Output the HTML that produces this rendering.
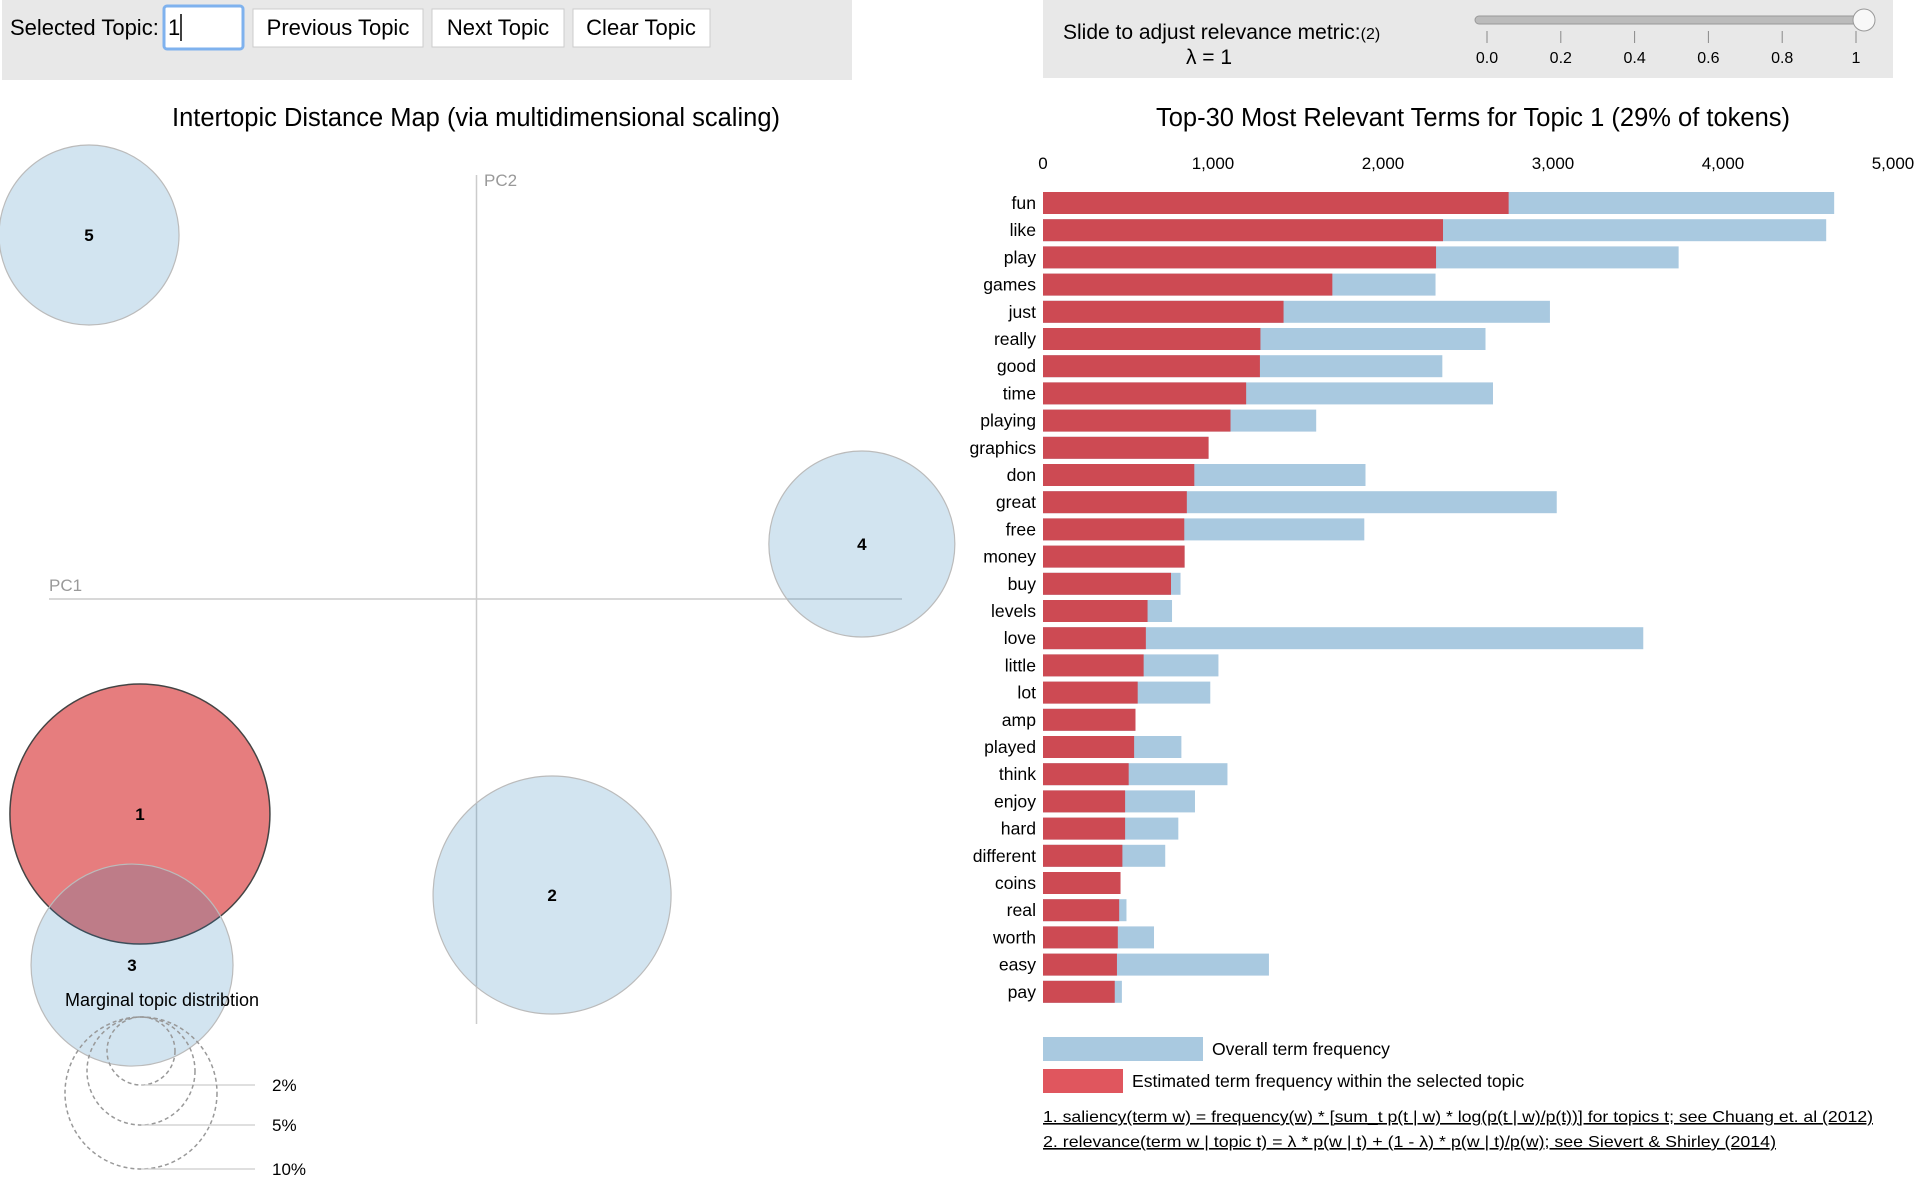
<!DOCTYPE html>
<html><head><meta charset="utf-8">
<style>
html,body{margin:0;padding:0;background:#fff;}
body{width:1926px;height:1186px;overflow:hidden;position:relative;font-family:"Liberation Sans",Arial,sans-serif;}
svg text{font-family:"Liberation Sans",Arial,sans-serif;}
</style></head>
<body>
<svg id="root" width="1926" height="1186" xmlns="http://www.w3.org/2000/svg">
  <rect x="2" y="0" width="850" height="80" fill="#e8e8e8"/>
  <text x="10" y="35" font-size="22" fill="#000">Selected Topic:</text>
  <rect x="164" y="6" width="79" height="43" rx="3" fill="#fff" stroke="#7fb2ee" stroke-width="3"/>
  <text x="168" y="35" font-size="22">1</text>
  <line x1="181" y1="14" x2="181" y2="41" stroke="#000" stroke-width="1.5"/>
  <g>
    <rect x="253" y="9" width="170" height="38" fill="#fff" stroke="#ccc"/>
    <text x="338" y="35" font-size="22" text-anchor="middle">Previous Topic</text>
  </g>
  <g>
    <rect x="432" y="9" width="132" height="38" fill="#fff" stroke="#ccc"/>
    <text x="498" y="35" font-size="22" text-anchor="middle">Next Topic</text>
  </g>
  <g>
    <rect x="573" y="9" width="137" height="38" fill="#fff" stroke="#ccc"/>
    <text x="641" y="35" font-size="22" text-anchor="middle">Clear Topic</text>
  </g>

  <rect x="1043" y="0" width="850" height="78" fill="#e8e8e8"/>
  <text x="1063" y="39" font-size="21">Slide to adjust relevance metric:<tspan font-size="16">(2)</tspan></text>
  <text x="1209" y="64" font-size="21" text-anchor="middle">λ = 1</text>
  <rect x="1475" y="16" width="390" height="8" rx="4" fill="#bbb" stroke="#999"/>
  <circle cx="1864" cy="20" r="11" fill="#f8f8f8" stroke="#999"/>
  <g id="sliderTicks"></g>

  <text x="476" y="126" font-size="25.5" text-anchor="middle">Intertopic Distance Map (via multidimensional scaling)</text>
  <text x="1473" y="126" font-size="25.5" text-anchor="middle">Top-30 Most Relevant Terms for Topic 1 (29% of tokens)</text>

  <g>
    <line x1="476.5" y1="175" x2="476.5" y2="1024" stroke="#ccc" stroke-width="1.5"/>
    <line x1="49" y1="599" x2="902" y2="599" stroke="#ccc" stroke-width="1.5"/>
    <text x="484" y="186" font-size="17" fill="#999">PC2</text>
    <text x="49" y="591" font-size="17" fill="#999">PC1</text>
    <g id="circles"></g>
    <text x="162" y="1006" font-size="18" text-anchor="middle">Marginal topic distribtion</text>
    <g id="legendCircles"></g>
  </g>

  <g id="bars"></g>

  <rect x="1043" y="1037" width="160" height="24" fill="#a9c9e0"/>
  <text x="1212" y="1055" font-size="17.6">Overall term frequency</text>
  <rect x="1043" y="1069" width="80" height="24" fill="#e0565e"/>
  <text x="1132" y="1087" font-size="17.6">Estimated term frequency within the selected topic</text>
  <text x="1043" y="1122" font-size="16" text-decoration="underline" textLength="830" lengthAdjust="spacingAndGlyphs">1. saliency(term w) = frequency(w) * [sum_t p(t | w) * log(p(t | w)/p(t))] for topics t; see Chuang et. al (2012)</text>
  <text x="1043" y="1147" font-size="16" text-decoration="underline" textLength="733" lengthAdjust="spacingAndGlyphs">2. relevance(term w | topic t) = λ * p(w | t) + (1 - λ) * p(w | t)/p(w); see Sievert &amp; Shirley (2014)</text>
</svg>
<script>
const terms = ["fun","like","play","games","just","really","good","time","playing","graphics","don","great","free","money","buy","levels","love","little","lot","amp","played","think","enjoy","hard","different","coins","real","worth","easy","pay"];
const overallFreq = [4654,4607,3739,2309,2982,2603,2349,2647,1607,974,1897,3022,1890,833,809,759,3531,1032,984,544,814,1085,894,796,719,456,491,653,1329,464];
const topicFreq = [2739,2353,2312,1702,1415,1279,1276,1195,1103,974,890,846,831,833,753,615,605,592,557,544,536,504,483,483,467,456,448,440,435,422];
const xTicks = [0,1000,2000,3000,4000,5000];
const xTickLabels = ["0","1,000","2,000","3,000","4,000","5,000"];
const sliderValues = [0,0.2,0.4,0.6,0.8,1];
const sliderLabels = ["0.0","0.2","0.4","0.6","0.8","1"];
const topicIds = [1,2,3,4,5];
const topicX = [-0.2387,0.0536,-0.2443,0.2733,-0.2748];
const topicY = [-0.1511,-0.2085,-0.2582,0.0404,0.2596];
const topicR = [130,119,101,93,90];
const legendPct = ["2%","5%","10%"];
const legendR = [34,54,76];

const NS="http://www.w3.org/2000/svg";
function mk(tag,attrs,parent){const e=document.createElementNS(NS,tag);for(const k in attrs)e.setAttribute(k,attrs[k]);parent.appendChild(e);return e;}

const x0=1043, pxPer=170/1000;
const xs=v=>x0+v*pxPer;
const y0=192, step=27.2, bh=22;
const ys=i=>y0+i*step;
const bars=document.getElementById('bars');
xTicks.forEach((t,i)=>{
  const tx=mk('text',{x:xs(t),y:169,'font-size':17,'text-anchor':'middle'},bars);
  
  
  tx.textContent=xTickLabels[i];
});
terms.forEach((t,i)=>{
  const b=mk('rect',{x:xs(0),y:ys(i),width:xs(overallFreq[i])-xs(0),height:bh,fill:'#a9c9e0'},bars);
  
  
  const r=mk('rect',{x:xs(0),y:ys(i),width:xs(topicFreq[i])-xs(0),height:bh,fill:'#cd4a53'},bars);
  
  
  const l=mk('text',{x:1036,y:ys(i)+bh/2+6,'font-size':17.6,'text-anchor':'end'},bars);
  
  
  l.textContent=t;
});

const st=document.getElementById('sliderTicks');
const ss=v=>1487+v*(1856-1487);
sliderValues.forEach((v,i)=>{
  const ln=mk('line',{x1:ss(v),y1:31,x2:ss(v),y2:43,stroke:'#888'},st);
  
  
  const tx=mk('text',{x:ss(v),y:63,'font-size':16,'text-anchor':'middle'},st);
  
  
  tx.textContent=sliderLabels[i];
});

const cx=v=>476.5+v*1410;
const cy=v=>601-v*1410;
const cg=document.getElementById('circles');
topicIds.forEach((id,i)=>{
  const sel=id===1;
  const c=mk('circle',{cx:cx(topicX[i]),cy:cy(topicY[i]),r:topicR[i],
    fill:sel?'rgba(214,39,40,0.6)':'rgba(31,119,180,0.2)',
    stroke:sel?'#444':'#bbb','stroke-width':sel?1.5:1.2},cg);
  
  
});
topicIds.forEach((id,i)=>{
  const t=mk('text',{x:cx(topicX[i]),y:cy(topicY[i])+6,'font-size':17,'font-weight':'bold','text-anchor':'middle'},cg);
  
  
  t.textContent=id;
});

const lg=document.getElementById('legendCircles');
const lx=141, ltop=1017;
legendR.forEach((r,i)=>{
  const c=mk('circle',{cx:lx,cy:ltop+r,r:r,fill:'none',stroke:'#999','stroke-dasharray':'4 3','stroke-width':1.5},lg);
  
  
  const ln=mk('line',{x1:lx,y1:ltop+2*r,x2:255,y2:ltop+2*r,stroke:'#ccc','stroke-width':1.2},lg);
  
  
  const t=mk('text',{x:272,y:ltop+2*r+6,'font-size':17},lg);
  
  
  t.textContent=legendPct[i];
});
</script>
</body></html>
